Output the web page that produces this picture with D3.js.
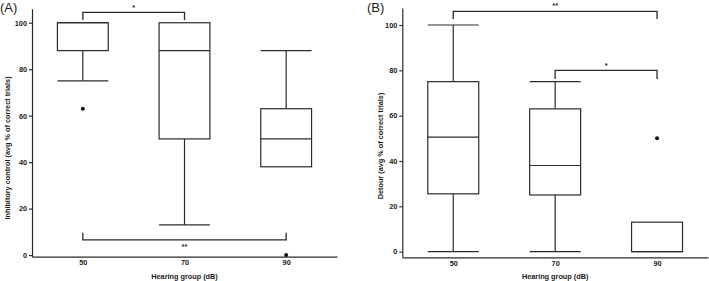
<!DOCTYPE html>
<html><head><meta charset="utf-8">
<script src="https://cdn.jsdelivr.net/npm/d3@7"></script>
<style>
body{margin:0;background:#fff;}
svg text{font-family:"Liberation Sans",Arial,sans-serif;fill:#1a1a1a;}
</style></head>
<body><svg id="c" width="709" height="281"></svg>
<script>
const categories = ["50","70","90"];
const yTicks = [0,20,40,60,80,100];
// Panel A: Inhibitory control
const aLowWhisker = [75, 13, 38];
const aQ1 = [88, 50, 38];
const aMedian = [100, 88, 50];
const aQ3 = [100, 100, 63];
const aHighWhisker = [100, 100, 88];
const aOutliers = [[0, 63], [2, 0]]; // [categoryIndex, value]
const aBrackets = [ // [fromIdx, toIdx, lineValue, tipValue, label, labelValue]
  [0, 1, 104.5, 101.2, "*", 106.5],
  [0, 2, 6.5, 9.6, "**", 3.5]
];
// Panel B: Detour
const bLowWhisker = [0, 0, 0];
const bQ1 = [25.5, 25, 0];
const bMedian = [50.5, 38, 0];
const bQ3 = [75, 63, 13];
const bHighWhisker = [100, 75, 13];
const bOutliers = [[2, 50]];
const bBrackets = [
  [0, 2, 106, 102.6, "**", 108.5],
  [1, 2, 80, 76.2, "*", 82]
];

const svg = d3.select("#c");
const stroke = "#2b2b2b";

function panel(cfg) {
  const g = svg.append("g");
  const x = d3.scalePoint().domain(categories).range(cfg.xr).padding(0.5);
  const y = d3.scaleLinear().domain(cfg.yd).range(cfg.yr);
  const bw = x.step() * 0.5;

  // y axis
  const ya = g.append("g").attr("transform", `translate(${cfg.xr[0]},0)`)
    .call(d3.axisLeft(y).tickValues(yTicks).tickSizeOuter(0).tickSizeInner(3).tickPadding(2));
  ya.selectAll("path,line").attr("stroke", stroke).attr("stroke-width", 1.2);
  ya.selectAll("text").attr("font-size", 7.3).attr("font-weight", "bold").attr("fill", "#1a1a1a");

  // x axis
  const xa = g.append("g").attr("transform", `translate(0,${cfg.yr[0]})`)
    .call(d3.axisBottom(x).tickSize(0).tickSizeOuter(0).tickPadding(3.5));
  xa.selectAll("path").attr("stroke", stroke).attr("stroke-width", 1.3);
  xa.selectAll("text").attr("font-size", 7.3).attr("font-weight", "bold").attr("fill", "#1a1a1a");

  // boxes
  categories.forEach((c, i) => {
    const cx = x(c);
    const line = (x1, y1, x2, y2) => g.append("line").attr("x1", x1).attr("y1", y1).attr("x2", x2).attr("y2", y2)
      .attr("stroke", stroke).attr("stroke-width", 1.2);
    // whiskers
    if (cfg.hi[i] > cfg.q3[i]) {
      line(cx, y(cfg.q3[i]), cx, y(cfg.hi[i]));
      line(cx - bw / 2, y(cfg.hi[i]), cx + bw / 2, y(cfg.hi[i]));
    }
    if (cfg.lo[i] < cfg.q1[i]) {
      line(cx, y(cfg.q1[i]), cx, y(cfg.lo[i]));
      line(cx - bw / 2, y(cfg.lo[i]), cx + bw / 2, y(cfg.lo[i]));
    }
    g.append("rect").attr("x", cx - bw / 2).attr("y", y(cfg.q3[i]))
      .attr("width", bw).attr("height", y(cfg.q1[i]) - y(cfg.q3[i]))
      .attr("fill", "#fff").attr("stroke", stroke).attr("stroke-width", 1.2);
    line(cx - bw / 2, y(cfg.med[i]), cx + bw / 2, y(cfg.med[i]));
  });

  cfg.out.forEach(o => {
    g.append("circle").attr("cx", x(categories[o[0]])).attr("cy", y(o[1])).attr("r", 2).attr("fill", "#111");
  });

  cfg.br.forEach(b => {
    const x1 = x(categories[b[0]]), x2 = x(categories[b[1]]);
    g.append("path").attr("d", `M${x1},${y(b[3])}V${y(b[2])}H${x2}V${y(b[3])}`)
      .attr("fill", "none").attr("stroke", stroke).attr("stroke-width", 1.3);
    g.append("text").attr("x", (x1 + x2) / 2).attr("y", y(b[5])).attr("text-anchor", "middle")
      .attr("dominant-baseline", "middle").attr("font-size", 7.5).attr("font-weight", "bold").text(b[4]);
  });

  // titles
  g.append("text").attr("x", (cfg.xr[0] + cfg.xr[1]) / 2).attr("y", 279)
    .attr("text-anchor", "middle").attr("font-size", 7.3).attr("font-weight", "bold").text("Hearing group (dB)");
  g.append("text").attr("transform", `translate(${cfg.ytx},${cfg.yty}) rotate(-90)`)
    .attr("text-anchor", "middle").attr("font-size", 7.3).attr("font-weight", "bold").text(cfg.ytitle);
  g.append("text").attr("x", cfg.lx).attr("y", 12).attr("font-size", 13).text(cfg.label);
}

panel({xr: [32, 337], yd: [-0.7, 106], yr: [256.7, 8.8],
  lo: aLowWhisker, q1: aQ1, med: aMedian, q3: aQ3, hi: aHighWhisker, out: aOutliers, br: aBrackets,
  ytitle: "Inhibitory control (avg % of correct trials)", ytx: 10, yty: 148, label: "(A)", lx: 0});
panel({xr: [402.3, 708], yd: [-2.5, 107.5], yr: [257.3, 8],
  lo: bLowWhisker, q1: bQ1, med: bMedian, q3: bQ3, hi: bHighWhisker, out: bOutliers, br: bBrackets,
  ytitle: "Detour (avg % of correct trials)", ytx: 383, yty: 146, label: "(B)", lx: 367});
</script></body></html>
